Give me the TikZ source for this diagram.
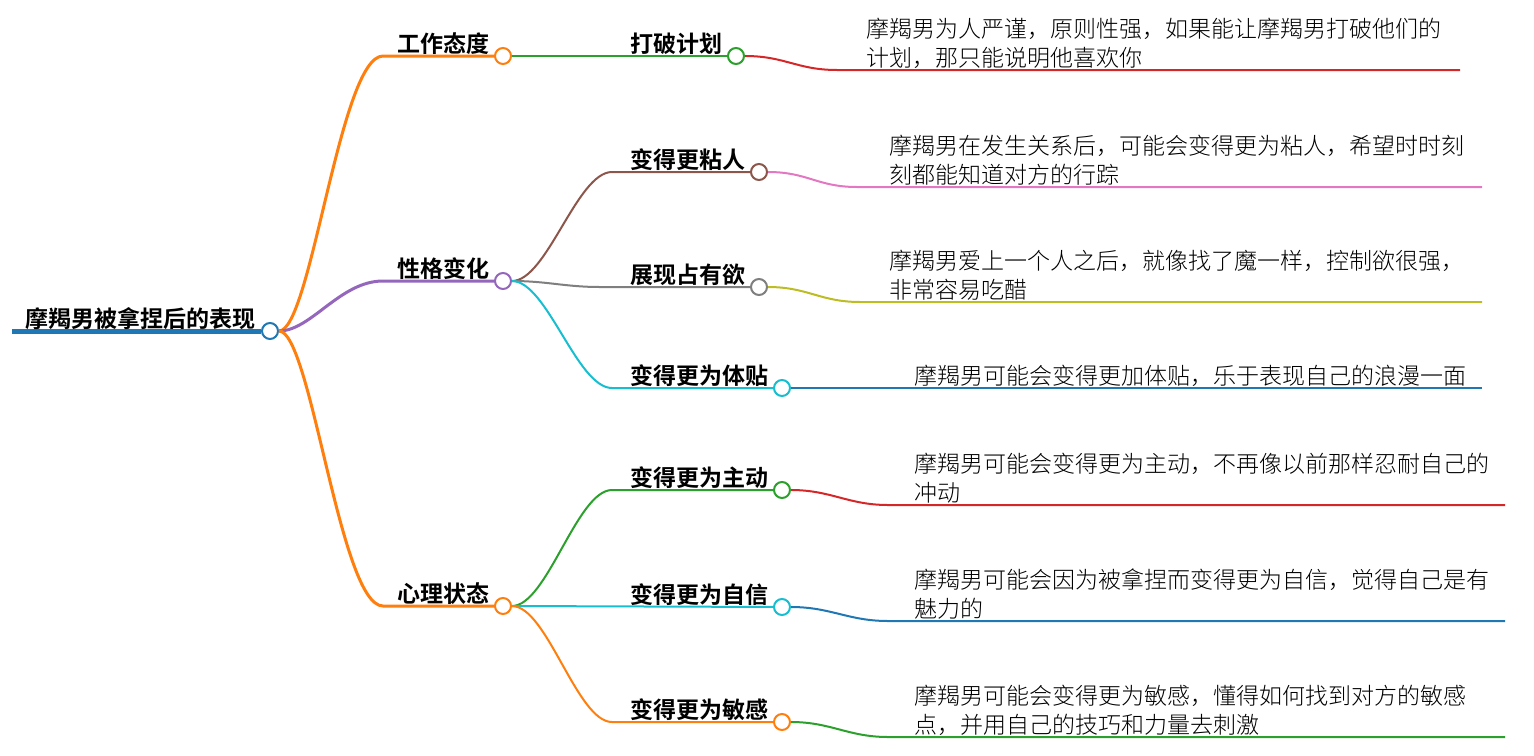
\documentclass[tikz,border=0pt]{standalone}
\usepackage{fontspec}
\setmainfont{Noto Sans CJK SC}[BoldFont={Noto Sans CJK SC Bold}]
\newfontfamily\descfont{Noto Sans CJK SC Light}
\usetikzlibrary{positioning}
\definecolor{tblue}{HTML}{1F77B4}
\definecolor{torange}{HTML}{FF7F0E}
\definecolor{tgreen}{HTML}{2CA02C}
\definecolor{tred}{HTML}{D62728}
\definecolor{tpurple}{HTML}{9467BD}
\definecolor{tbrown}{HTML}{8C564B}
\definecolor{tpink}{HTML}{E377C2}
\definecolor{tgray}{HTML}{7F7F7F}
\definecolor{tolive}{HTML}{BCBD22}
\definecolor{tcyan}{HTML}{17BECF}

\begin{document}
\begin{tikzpicture}[x=0.5pt,y=-0.5pt,
   dot/.style={circle,draw=#1,fill=white,line width=1pt,minimum size=8pt,inner sep=0pt},
   lbl/.style={anchor=base east,inner sep=0pt,font=\fontsize{11.5}{14}\selectfont\bfseries},
   txt/.style={anchor=south west,align=left,inner sep=0.5pt,font=\fontsize{11.5}{14.5}\selectfont\descfont},
   edge/.style={draw=#1,line width=1pt}]
   \useasboundingbox (0,0) rectangle (1534,755);

   % root
   \coordinate (root-s) at (12,331);
   \node[dot=tblue] (root) at (270,331) {};
   \draw[tblue,line width=2.5pt] (root-s) -- (root.west);
   \node[anchor=base west,inner sep=0pt,font=\fontsize{11.5}{14}\selectfont\bfseries] (root-l) at (25,327) {摩羯男被拿捏后的表现};

   % first level
   \coordinate (work-b) at (383,56);
   \coordinate (char-b) at (383,281);
   \coordinate (mind-b) at (383,606);
   \draw[edge=torange,line width=1.5pt] (root.east) .. controls +(32,0) and +(-43,0) .. (work-b) -- (503,56) node[dot=torange] (work) {};
   \draw[edge=tpurple,line width=1.5pt] (root.east) .. controls +(32,0) and +(-43,0) .. (char-b) -- (503,281) node[dot=tpurple] (char) {};
   \draw[edge=torange,line width=1.5pt] (root.east) .. controls +(32,0) and +(-43,0) .. (mind-b) -- (503,606) node[dot=torange] (mind) {};
   \node[lbl] (work-l) at ([xshift=-2pt,yshift=2pt]work.west) {工作态度};
   \node[lbl] (char-l) at ([xshift=-2pt,yshift=2pt]char.west) {性格变化};
   \node[lbl] (mind-l) at ([xshift=-2pt,yshift=2pt]mind.west) {心理状态};

   % second level
   \coordinate (clingy-b) at (612,172);
   \coordinate (own-b) at (600,287);
   \coordinate (caring-b) at (612,388);
   \coordinate (active-b) at (612,490);
   \coordinate (sensitive-b) at (612,722);
   \draw[edge=tgreen] (work.east) -- (736,56) node[dot=tgreen] (plan) {};
   \draw[edge=tbrown] (char.east) .. controls +(35,0) and +(-35,0) .. (clingy-b) -- (759,172) node[dot=tbrown] (clingy) {};
   \draw[edge=tgray] (char.east) .. controls +(35,0) and +(-35,0) .. (own-b) -- (759,287) node[dot=tgray] (own) {};
   \draw[edge=tcyan] (char.east) .. controls +(35,0) and +(-35,0) .. (caring-b) -- (782,388) node[dot=tcyan] (caring) {};
   \draw[edge=tgreen] (mind.east) .. controls +(35,0) and +(-35,0) .. (active-b) -- (782,490) node[dot=tgreen] (active) {};
   \draw[edge=tcyan] (mind.east) -- (782,607) node[dot=tcyan] (confident) {};
   \draw[edge=torange] (mind.east) .. controls +(35,0) and +(-35,0) .. (sensitive-b) -- (782,722) node[dot=torange] (sensitive) {};
   \node[lbl] (plan-l) at ([xshift=-2pt,yshift=2pt]plan.west) {打破计划};
   \node[lbl] (clingy-l) at ([xshift=-2pt,yshift=2pt]clingy.west) {变得更粘人};
   \node[lbl] (own-l) at ([xshift=-2pt,yshift=2pt]own.west) {展现占有欲};
   \node[lbl] (caring-l) at ([xshift=-2pt,yshift=2pt]caring.west) {变得更为体贴};
   \node[lbl] (active-l) at ([xshift=-2pt,yshift=2pt]active.west) {变得更为主动};
   \node[lbl] (confident-l) at ([xshift=-2pt,yshift=2pt]confident.west) {变得更为自信};
   \node[lbl] (sensitive-l) at ([xshift=-2pt,yshift=2pt]sensitive.west) {变得更为敏感};

   % descriptions
   \coordinate (plan-d) at (837,70);        \coordinate (plan-e) at (1460,70);
   \coordinate (clingy-d) at (857,187);     \coordinate (clingy-e) at (1482,187);
   \coordinate (own-d) at (860,302);        \coordinate (own-e) at (1482,302);
   \coordinate (caring-e) at (1482,388);
   \coordinate (active-d) at (888,505);     \coordinate (active-e) at (1505,505);
   \coordinate (confident-d) at (888,621);  \coordinate (confident-e) at (1505,621);
   \coordinate (sensitive-d) at (888,737);  \coordinate (sensitive-e) at (1505,737);
   \draw[edge=tred] (plan.east) .. controls +(40,0) and +(-40,0) .. (plan-d) -- (plan-e);
   \draw[edge=tpink] (clingy.east) .. controls +(40,0) and +(-40,0) .. (clingy-d) -- (clingy-e);
   \draw[edge=tolive] (own.east) .. controls +(40,0) and +(-40,0) .. (own-d) -- (own-e);
   \draw[edge=tblue] (caring.east) -- (caring-e);
   \draw[edge=tred] (active.east) .. controls +(40,0) and +(-40,0) .. (active-d) -- (active-e);
   \draw[edge=tblue] (confident.east) .. controls +(40,0) and +(-40,0) .. (confident-d) -- (confident-e);
   \draw[edge=tgreen] (sensitive.east) .. controls +(40,0) and +(-40,0) .. (sensitive-d) -- (sensitive-e);

   \node[txt] (plan-t) at (865,70) {摩羯男为人严谨，原则性强，如果能让摩羯男打破他们的\\计划，那只能说明他喜欢你};
   \node[txt] (clingy-t) at (888,187) {摩羯男在发生关系后，可能会变得更为粘人，希望时时刻\\刻都能知道对方的行踪};
   \node[txt] (own-t) at (888,302) {摩羯男爱上一个人之后，就像找了魔一样，控制欲很强，\\非常容易吃醋};
   \node[txt] (caring-t) at (913,388) {摩羯男可能会变得更加体贴，乐于表现自己的浪漫一面};
   \node[txt] (active-t) at (913,505) {摩羯男可能会变得更为主动，不再像以前那样忍耐自己的\\冲动};
   \node[txt] (confident-t) at (913,621) {摩羯男可能会因为被拿捏而变得更为自信，觉得自己是有\\魅力的};
   \node[txt] (sensitive-t) at (913,737) {摩羯男可能会变得更为敏感，懂得如何找到对方的敏感\\点，并用自己的技巧和力量去刺激};
\end{tikzpicture}
\end{document}
